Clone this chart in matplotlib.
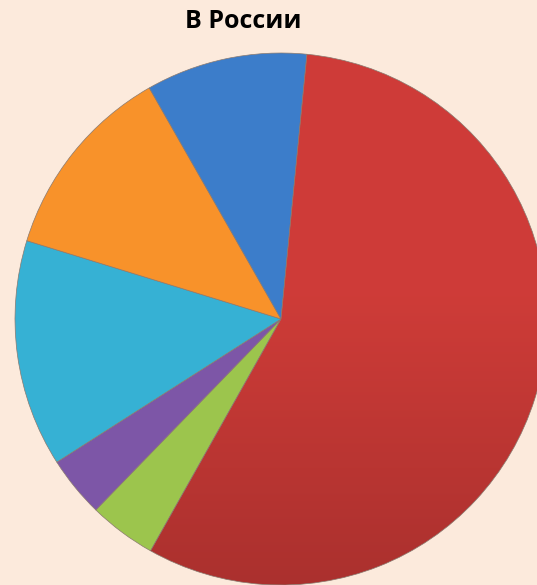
import matplotlib

matplotlib.use("Agg")
import matplotlib.pyplot as plt
import numpy as np

# Shares, clockwise from the top
labels = ["red", "green", "purple", "cyan", "orange", "blue"]
shares = [56.6, 4.1, 3.7, 13.8, 12.0, 9.8]
colors = ["#CF3C38", "#9CC54D", "#7D56A7", "#36B1D4", "#F8922A", "#3C7DCA"]
title = "В России"

BG = "#FCEADC"
W, H = 537, 585
CX, CY, R = 281, H - 319, 266

fig = plt.figure(figsize=(W / 100, H / 100), dpi=100, facecolor=BG)
ax = fig.add_axes([0, 0, 1, 1])
ax.set_facecolor(BG)

wedges, _ = ax.pie(shares, colors=colors, startangle=84.4, counterclock=False,
                   center=(CX, CY), radius=R, frame=True,
                   wedgeprops=dict(edgecolor="#8a7a70", linewidth=0.5))
ax.set_xlim(0, W)
ax.set_ylim(0, H)
ax.set_aspect("equal")
ax.axis("off")

# big slice gets darker toward its bottom edge
t = np.clip((np.linspace(0, 1, 256) - 0.45) / 0.55, 0, 1)[:, None]
top = np.array([0.81, 0.235, 0.22])
bot = np.array([0.67, 0.19, 0.18])
img = top + (bot - top) * t[..., None]
img = np.repeat(img, 2, axis=1)
im = ax.imshow(img, extent=(CX - R, CX + R, CY - R, CY + R), origin="upper",
               aspect="auto", zorder=wedges[0].get_zorder() + 0.1)
im.set_clip_path(wedges[0])
wedges[0].set_zorder(wedges[0].get_zorder() + 0.2)
wedges[0].set_facecolor("none")

fig.text(243 / W, 1 - 22 / H, title, ha="center", va="center",
         fontsize=18, fontweight="bold", family="Open Sans")

fig.savefig("out.png", dpi=100, facecolor=BG)
